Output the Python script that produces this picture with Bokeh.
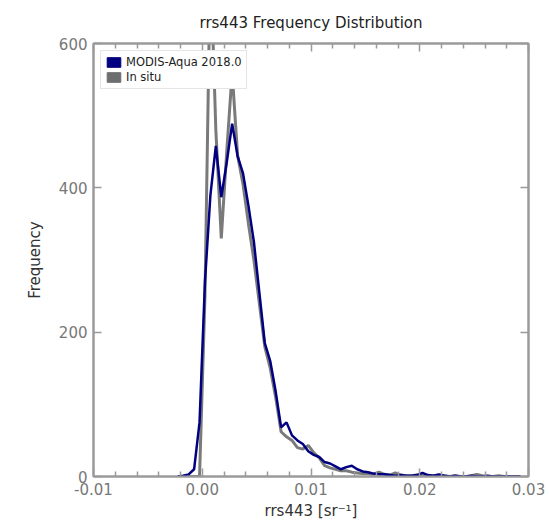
from bokeh.plotting import figure
from bokeh.models import FixedTicker, LinearAxis, Range1d, Legend, LegendItem
from bokeh.embed import file_html
from bokeh.resources import INLINE

# histogram bin centres (x, sr^-1) and bin width
bin_centers = [-0.00225, -0.00175, -0.00125, -0.00075, -0.00025, 0.00025, 0.00075, 0.00125,
               0.00175, 0.00225, 0.00275, 0.00325, 0.00375, 0.00425, 0.00475, 0.00525,
               0.00575, 0.00625, 0.00675, 0.00725, 0.00775, 0.00825, 0.00875, 0.00925,
               0.00975, 0.01025, 0.01075, 0.01125, 0.01175, 0.01225, 0.01275, 0.01325,
               0.01375, 0.01425, 0.01475, 0.01525, 0.01575, 0.01625, 0.01675, 0.01725,
               0.01775, 0.01825, 0.01875, 0.01925, 0.01975, 0.02025, 0.02075, 0.02125,
               0.02175, 0.02225, 0.02275, 0.02325, 0.02375, 0.02425, 0.02475, 0.02525,
               0.02575, 0.02625, 0.02675, 0.02725, 0.02775, 0.02825, 0.02875, 0.02925]
bin_width = 0.0005

modis_counts = [0, 1, 3, 10, 75, 270, 390, 458, 387, 435, 489, 444, 420, 375, 325, 255,
                185, 160, 118, 68, 75, 57, 50, 45, 35, 30, 27, 20, 18, 14, 10, 13,
                15, 10, 7, 6, 4, 3, 3, 2, 1, 2, 1, 1, 2, 5, 2, 1,
                3, 1, 0, 1, 0, 0, 1, 0, 0, 1, 0, 0, 0, 0, 0, 0]

insitu_counts = [0, 0, 0, 0, 0, 250, 720, 480, 330, 450, 560, 445, 405, 350, 300, 240,
                 180, 150, 110, 62, 55, 50, 40, 38, 43, 33, 26, 15, 12, 10, 8, 8,
                 6, 5, 4, 4, 3, 6, 3, 2, 5, 2, 1, 1, 2, 1, 1, 1,
                 0, 1, 0, 1, 0, 0, 1, 3, 1, 0, 0, 1, 0, 0, 0, 0]

series_labels = ["MODIS-Aqua 2018.0", "In situ"]

x_ticks = [-0.01, 0.0, 0.01, 0.02, 0.03]
x_tick_labels = ["-0.01", "0.00", "0.01", "0.02", "0.03"]
x_minor_ticks = [-0.008, -0.006, -0.004, -0.002, 0.002, 0.004, 0.006, 0.008,
                 0.012, 0.014, 0.016, 0.018, 0.022, 0.024, 0.026, 0.028]
y_ticks = [0, 200, 400, 600]
y_tick_labels = ["0", "200", "400", "600"]

AX = "#9a9a9a"
FONT = "DejaVu Sans"
NAVY = "#000080"
GRAY = "#7a7a7a"

p = figure(width=549, height=523, x_range=Range1d(-0.01, 0.03), y_range=Range1d(0, 600),
           output_backend="svg", toolbar_location=None,
           title="rrs443 Frequency Distribution",
           x_axis_label="rrs443 [sr⁻¹]", y_axis_label="Frequency",
           min_border_left=93, min_border_right=21, min_border_top=43, min_border_bottom=47)
p.grid.visible = False
p.outline_line_color = AX
p.outline_line_width = 2
p.background_fill_color = "white"
p.border_fill_color = "white"

p.title.align = "center"
p.title.text_font = FONT
p.title.text_font_size = "15px"
p.title.text_font_style = "normal"
p.title.text_color = "#222222"
p.title.standoff = 23

xt = FixedTicker(ticks=x_ticks, minor_ticks=x_minor_ticks)
yt = FixedTicker(ticks=y_ticks, minor_ticks=[])


def style(ax, ticker, labels, show_labels=True):
    ax.ticker = ticker
    ax.axis_line_color = AX
    ax.axis_line_width = 2
    ax.major_tick_line_color = AX
    ax.major_tick_line_width = 1.5
    ax.minor_tick_line_color = AX
    ax.minor_tick_line_width = 1.5
    ax.major_tick_in = 8
    ax.major_tick_out = 0
    ax.minor_tick_in = 5
    ax.minor_tick_out = 0
    ax.major_label_overrides = dict(zip(ticker.ticks, labels))
    ax.major_label_text_font = FONT
    if show_labels:
        ax.major_label_text_color = "#777777"
        ax.major_label_text_font_size = "15px"
        ax.major_label_standoff = 6
    else:
        ax.major_label_text_color = None
        ax.major_label_text_font_size = "1px"
        ax.major_label_standoff = 0
    ax.axis_label_text_font = FONT
    ax.axis_label_text_font_style = "normal"
    ax.axis_label_text_font_size = "15px"
    ax.axis_label_text_color = "#333333"


style(p.xaxis[0], xt, x_tick_labels)
style(p.yaxis[0], yt, y_tick_labels)
p.xaxis[0].axis_label_standoff = 4
p.yaxis[0].axis_label_standoff = 12

top_ax = LinearAxis()
style(top_ax, xt, x_tick_labels, show_labels=False)
p.add_layout(top_ax, "above")
right_ax = LinearAxis()
style(right_ax, yt, y_tick_labels, show_labels=False)
right_ax.minor_tick_in = 0
p.add_layout(right_ax, "right")

# hidden histogram bars: only used to give the legend filled square patches
lefts = [c - bin_width / 2 for c in bin_centers]
rights = [c + bin_width / 2 for c in bin_centers]
bars_navy = p.quad(left=lefts, right=rights, top=modis_counts, bottom=0,
                   fill_color=NAVY, line_color=NAVY, visible=False)
bars_gray = p.quad(left=lefts, right=rights, top=insitu_counts, bottom=0,
                   fill_color="#6e6e6e", line_color="#6e6e6e", visible=False)

r_gray = p.line(bin_centers, insitu_counts, line_color=GRAY, line_width=3)
r_navy = p.line(bin_centers, modis_counts, line_color=NAVY, line_width=2.5)

legend = Legend(items=[LegendItem(label=series_labels[0], renderers=[bars_navy]),
                       LegendItem(label=series_labels[1], renderers=[bars_gray])],
                location="top_left", margin=7, padding=4, spacing=1,
                glyph_width=17, glyph_height=12, label_height=12, label_standoff=4,
                label_text_font=FONT, label_text_font_size="11.5px", label_text_color="#222222",
                border_line_color="#cccccc", border_line_width=1,
                background_fill_color="white", background_fill_alpha=1.0)
p.add_layout(legend, "center")

open("out.html", "w").write(file_html(p, INLINE))
